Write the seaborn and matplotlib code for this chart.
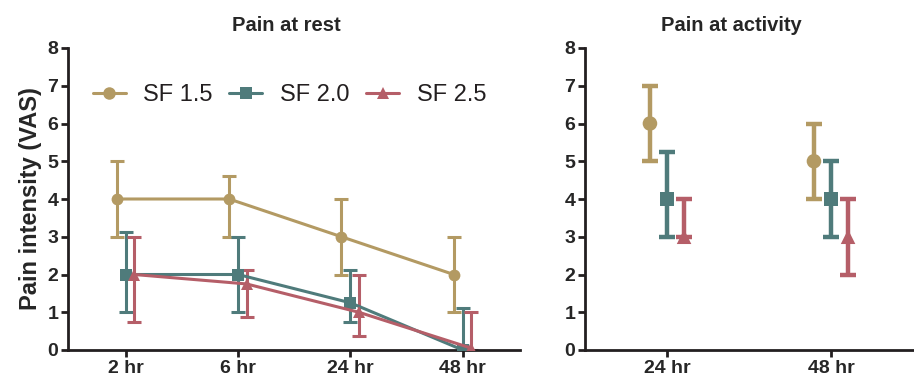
import matplotlib
matplotlib.use("Agg")
import matplotlib.pyplot as plt
import seaborn as sns
import pandas as pd
import numpy as np
from matplotlib.lines import Line2D

# ===================== data =====================
groups = ["SF 1.5", "SF 2.0", "SF 2.5"]
colors = ["#B39A63", "#4F7B7B", "#B55E68"]
markers = ["o", "s", "^"]

rest_times = ["2 hr", "6 hr", "24 hr", "48 hr"]
rest_mid = {
    "SF 1.5": [4, 4, 3, 2],
    "SF 2.0": [2, 2, 1.25, 0],
    "SF 2.5": [2, 1.75, 1.0, 0.05],
}
rest_low = {
    "SF 1.5": [3, 3, 2, 1],
    "SF 2.0": [1, 1, 0.75, 0],
    "SF 2.5": [0.75, 0.88, 0.38, 0],
}
rest_high = {
    "SF 1.5": [5, 4.62, 4, 3],
    "SF 2.0": [3.12, 3, 2.12, 1.12],
    "SF 2.5": [3, 2.12, 2.0, 1.0],
}

act_times = ["24 hr", "48 hr"]
act_mid = {
    "SF 1.5": [6, 5],
    "SF 2.0": [4, 4],
    "SF 2.5": [3, 3],
}
act_low = {
    "SF 1.5": [5, 4],
    "SF 2.0": [3, 3],
    "SF 2.5": [3, 2],
}
act_high = {
    "SF 1.5": [7, 6],
    "SF 2.0": [5.25, 5],
    "SF 2.5": [4, 4],
}

rest_dodge = [-0.08, 0.0, 0.075]
act_dodge = [-0.104, 0.0, 0.104]

# ===================== style =====================
sns.set_theme(style="ticks")
plt.rcParams['font.family'] = ['Liberation Sans', 'DejaVu Sans']
plt.rcParams['axes.linewidth'] = 2
plt.rcParams['axes.edgecolor'] = '#231F20'

fig = plt.figure(figsize=(9.14, 3.85), dpi=100)
ax1 = fig.add_axes([68 / 914, 1 - 350 / 385, (520 - 68) / 914, (350 - 48) / 385])
ax2 = fig.add_axes([585 / 914, 1 - 350 / 385, (914 - 585) / 914, (350 - 48) / 385])


def build_df(times, mid, dodge):
    rows = []
    for g, off in zip(groups, dodge):
        for i, t in enumerate(times):
            rows.append({"group": g, "time": t, "x": i + off, "y": mid[g][i]})
    return pd.DataFrame(rows)


df_rest = build_df(rest_times, rest_mid, rest_dodge)
df_act = build_df(act_times, act_mid, act_dodge)
pal = dict(zip(groups, colors))
mk = dict(zip(groups, markers))

# ---- 左图：静息痛 ----
for g, c in zip(groups, colors):
    sub = df_rest[df_rest.group == g]
    lo = np.array(rest_low[g]); hi = np.array(rest_high[g]); y = sub["y"].values
    ax1.errorbar(sub["x"], y, yerr=[y - lo, hi - y], fmt="none", ecolor=c,
                 elinewidth=2.2, capsize=5, capthick=2.2, zorder=2)
sns.lineplot(data=df_rest, x="x", y="y", hue="group", style="group", palette=pal,
             markers=mk, dashes=False, markersize=8.5, markeredgewidth=0, linewidth=2.2,
             ax=ax1, legend=False, zorder=3)

# ---- 右图：活动痛 ----
for g, c in zip(groups, colors):
    sub = df_act[df_act.group == g]
    lo = np.array(act_low[g]); hi = np.array(act_high[g]); y = sub["y"].values
    eb = ax2.errorbar(sub["x"], y, yerr=[y - lo, hi - y], fmt="none", ecolor=c,
                      elinewidth=3.2, capsize=6, capthick=3.2, zorder=2)
    for cap in eb[1]:
        cap.set_solid_capstyle("round")
sns.scatterplot(data=df_act, x="x", y="y", hue="group", style="group", palette=pal,
                markers=mk, s=110, linewidth=0, ax=ax2, legend=False, zorder=3)

for ax, times, title, tx in [(ax1, rest_times, "Pain at rest", 0.484),
                             (ax2, act_times, "Pain at activity", 0.444)]:
    ax.set_ylim(0, 8)
    ax.set_yticks(range(0, 9))
    ax.set_xticks(range(len(times)))
    ax.set_xticklabels(times)
    ax.set_xlabel("")
    ax.set_ylabel("")
    ax.set_title(title, fontsize=14.5, fontweight="bold", pad=12, x=tx)
    ax.tick_params(axis="both", width=2, length=5, color="#231F20", labelsize=14, pad=2)
    for lab in ax.get_xticklabels() + ax.get_yticklabels():
        lab.set_fontweight("bold")
    sns.despine(ax=ax)

ax1.set_xlim(-0.515, 3.51)
ax2.set_xlim(-0.5, 1.506)
ax1.set_ylabel("Pain intensity (VAS)", fontsize=17, fontweight="bold", labelpad=4)

handles = [Line2D([], [], color=c, marker=m, markersize=9, linewidth=2.2, markeredgewidth=0)
           for c, m in zip(colors, markers)]
ax1.legend(handles, groups, loc="center", bbox_to_anchor=(0.49, 0.844), ncol=3,
           frameon=False, fontsize=17, handlelength=1.4, columnspacing=0.7,
           handletextpad=0.75, labelcolor="#231F20")

fig.savefig("out.png", dpi=100)
